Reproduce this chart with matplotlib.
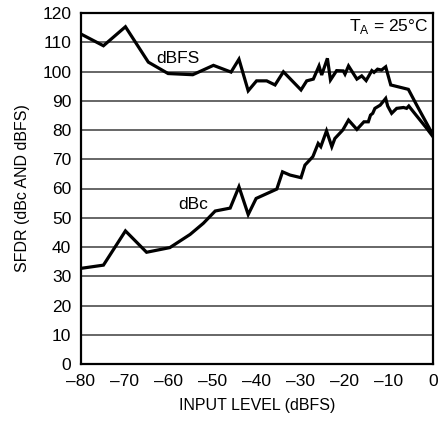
import matplotlib
matplotlib.use("Agg")
import matplotlib.pyplot as plt
from matplotlib.ticker import FuncFormatter

# data
dbfs_x = [-80, -74.9, -69.9, -64.7, -60.2, -54.6, -49.9, -45.9, -44.1, -42, -40.1, -37.8,
          -35.9, -34, -30, -28.7, -27.2, -25.9, -25.3, -24, -23.3, -21.9, -20.4, -20,
          -19.2, -17.3, -16.2, -15.2, -13.9, -13.4, -12.6, -11.7, -10.75, -9.6, -5.6,
          -3.7, 0]
dbfs_y = [112.8, 108.8, 115.3, 103.2, 99.3, 98.9, 102.1, 99.8, 104.2, 93.4, 96.8, 96.8,
          95.4, 99.9, 93.7, 96.8, 97.4, 101.9, 98.8, 104.5, 97.1, 100.3, 100.2, 99.1,
          101.9, 97.4, 98.5, 96.9, 100.3, 99.7, 100.8, 100.5, 101.6, 95.4, 93.9,
          88.5, 78.3]

dbc_x = [-80, -74.9, -69.9, -65.1, -59.8, -55.2, -52.2, -49.5, -46.1, -44.1, -42, -40.2,
         -35.5, -34.2, -32.5, -30, -29.1, -27.3, -26.1, -25.5, -24.2, -23, -22.3, -20.5,
         -19.2, -17.3, -15.7, -14.7, -14.2, -13.7, -13.2, -12, -10.75, -10.3, -9.4,
         -8.25, -6.7, -6, -5.5, -4.5, -1.45, 0]
dbc_y = [32.7, 33.8, 45.5, 38.2, 39.8, 44.3, 48.1, 52.3, 53.3, 60.6, 51.1, 56.6,
         59.8, 65.7, 64.6, 63.7, 68, 70.9, 75.4, 74.3, 79.7, 74.3, 77.1, 80,
         83.4, 80.2, 82.8, 82.8, 85.1, 85.7, 87.4, 88.5, 90.8, 88.2, 85.7,
         87.4, 87.7, 87.4, 88.2, 86.3, 80.6, 77.7]

x_ticks = [-80, -70, -60, -50, -40, -30, -20, -10, 0]
y_ticks = list(range(0, 121, 10))

plt.rcParams['font.family'] = ['Liberation Sans', 'DejaVu Sans']
plt.rcParams['mathtext.fontset'] = 'custom'
plt.rcParams['mathtext.rm'] = 'Liberation Sans'

fig = plt.figure(figsize=(4.41, 4.21), dpi=100)
ax = fig.add_axes([81/441, 1-364/421, 352/441, 351/421])

for yv in y_ticks[1:-1]:
    ax.axhline(yv, color='#5a5a5a', lw=1.3, zorder=1)

ax.plot(dbfs_x, dbfs_y, color='black', lw=2.3, zorder=3, solid_joinstyle='miter')
ax.plot(dbc_x, dbc_y, color='black', lw=2.3, zorder=3, solid_joinstyle='miter')

ax.text(-58, 104.6, "dBFS", fontsize=12.5, ha='center', va='center', zorder=4)
ax.text(-54.5, 54.7, "dBc", fontsize=12.5, ha='center', va='center', zorder=4)
ax.text(-1, 115.5, r"T$_\mathregular{A}$ = 25°C", fontsize=12.5, ha='right', va='center')

ax.set_xlim(-80, 0)
ax.set_ylim(0, 120)
ax.set_xticks(x_ticks)
ax.set_yticks(y_ticks)
ax.xaxis.set_major_formatter(FuncFormatter(lambda v, p: f"{v:.0f}".replace("-", "\u2013")))
ax.tick_params(length=0, labelsize=12.5)
ax.tick_params(axis='y', pad=7)
ax.tick_params(axis='x', pad=7)
for s in ax.spines.values():
    s.set_linewidth(1.6)

ax.set_xlabel("INPUT LEVEL (dBFS)", fontsize=11.5, labelpad=7)
ax.set_ylabel("SFDR (dBc AND dBFS)", fontsize=11.5, labelpad=9)

fig.savefig("out.png", dpi=100)
